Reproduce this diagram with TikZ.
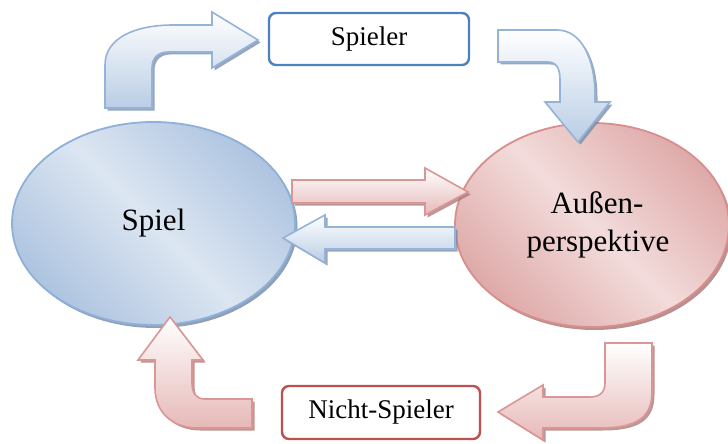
\documentclass[tikz,border=0pt]{standalone}
\usepackage{fontspec}
\setmainfont{Liberation Serif}
\usetikzlibrary{shapes.geometric,shadows}
\definecolor{spieldark}{HTML}{A9C0DE}
\definecolor{spiellight}{HTML}{DCE6F2}
\definecolor{spielline}{HTML}{8EB0D9}
\definecolor{aussendark}{HTML}{DCA4A3}
\definecolor{aussenlight}{HTML}{F2DCDB}
\definecolor{aussenline}{HTML}{D88E8D}
\definecolor{blueline}{HTML}{95B3D7}
\definecolor{bluefill}{HTML}{B9CDE5}
\definecolor{blueshade}{HTML}{7388A6}
\definecolor{redline}{HTML}{D99694}
\definecolor{redfill}{HTML}{E6B9B8}
\definecolor{redshade}{HTML}{A67474}
\definecolor{spielerline}{HTML}{4F81BD}
\definecolor{nichtline}{HTML}{C0504D}
\pgfdeclarehorizontalshading{spielshade}{100bp}{color(0bp)=(spieldark); color(22bp)=(spieldark); color(50bp)=(spiellight); color(78bp)=(spieldark); color(100bp)=(spieldark)}
\pgfdeclarehorizontalshading{aussenshade}{100bp}{color(0bp)=(aussendark); color(22bp)=(aussendark); color(50bp)=(aussenlight); color(78bp)=(aussendark); color(100bp)=(aussendark)}

\begin{document}
\begin{tikzpicture}[x=1pt,y=-1pt,
		oval/.style={ellipse,inner sep=0pt,line width=1.8pt,shading angle=45,font=\fontsize{31}{38}\selectfont,align=center},
		role/.style={rectangle,rounded corners=7pt,fill=white,line width=2.4pt,minimum width=200pt,minimum height=52pt,font=\fontsize{27}{30}\selectfont},
		bluearrow/.style={draw=blueline,line width=1.6pt,top color=white,bottom color=bluefill,drop shadow={fill=blueshade,opacity=.75,shadow xshift=2.5pt,shadow yshift=-2.5pt}},
		redarrow/.style={draw=redline,line width=1.6pt,top color=white,bottom color=redfill,drop shadow={fill=redshade,opacity=.75,shadow xshift=2.5pt,shadow yshift=-2.5pt}}]
		\useasboundingbox (0,0) rectangle (728,444);
		\node[oval,draw=spielline,shading=spielshade,minimum width=283pt,minimum height=203pt,
			drop shadow={fill=blueshade,opacity=.8,shadow xshift=2.5pt,shadow yshift=-3pt}] (spiel) at (153.5,223.5) {Spiel};
		\node[oval,draw=aussenline,shading=aussenshade,minimum width=274pt,minimum height=204pt,
			drop shadow={fill=redshade,opacity=.8,shadow xshift=2.5pt,shadow yshift=-3pt}] (aussen) at (592,225) {\hspace*{10pt}Außen-\\\hspace*{12pt}perspektive};
		\node[role,draw=spielerline] (spieler) at (369,39) {Spieler};
		\node[role,draw=nichtline,minimum width=198pt,minimum height=53pt] (nicht) at (381,412.5) {Nicht-Spieler};
		\draw[bluearrow] (105,108) -- (105,65) .. controls (105,38) and (135,25) .. (173,25) -- (212,25) -- (212,12)
			-- (258,40) -- (212,68) -- (212,52) -- (168,52) .. controls (158,52) and (152,58) .. (152,68) -- (152,108) -- cycle;
		\draw[bluearrow] (498,30) -- (557,30) .. controls (582,30) and (595,60) .. (595,95) -- (595,102) -- (610,102)
			-- (578,142) -- (545,102) -- (560,102) -- (560,80) .. controls (560,68) and (556,62) .. (548,62) -- (498,62) -- cycle;
		\draw[redarrow] (292,180) -- (425,180) -- (425,168) -- (468,192) -- (425,215) -- (425,203) -- (292,203) -- cycle;
		\draw[bluearrow] (455,227) -- (325,227) -- (325,215) -- (283,238) -- (325,263) -- (325,249) -- (455,249) -- cycle;
		\draw[redarrow] (605,343) -- (652,343) -- (652,392) .. controls (652,418) and (636,428) .. (600,428) -- (543,428) -- (543,440)
			-- (498,412) -- (543,385) -- (543,397) -- (590,397) .. controls (600,397) and (605,392) .. (605,383) -- cycle;
		\draw[redarrow] (170,317) -- (203,360) -- (192,360) -- (192,383) .. controls (192,393) and (196,399) .. (205,399)
			-- (252,399) -- (252,428) -- (198,428) .. controls (172,428) and (155,412) .. (155,388) -- (155,360) -- (138,360) -- cycle;
\end{tikzpicture}
\end{document}
